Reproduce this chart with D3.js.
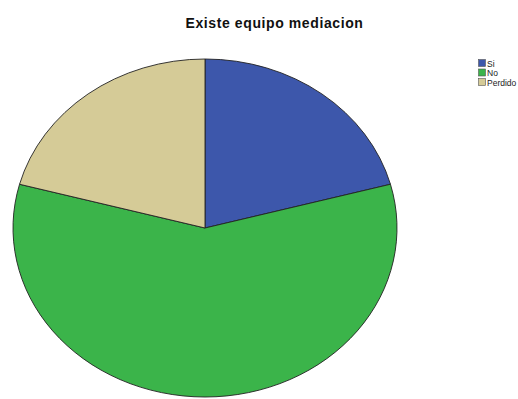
<!DOCTYPE html>
<html><head><meta charset="utf-8">
<script src="https://cdn.jsdelivr.net/npm/d3@7"></script>
<style>body{margin:0;background:#fff}</style>
</head><body>
<svg id="c" width="518" height="399"></svg>
<script>
const categories = ["Si", "No", "Perdido"];
const values = [5, 14, 5];
const colors = ["#3d57ab", "#3bb44a", "#d5cb97"];
const title = "Existe equipo mediacion";

const svg = d3.select("#c");
svg.append("text").attr("x", 274.5).attr("y", 28).attr("text-anchor", "middle")
  .attr("font-family", "Liberation Sans, Arial, sans-serif").attr("font-weight", "bold")
  .attr("font-size", 14).attr("letter-spacing", 0.6).attr("fill", "#111").text(title);

const cx = 205, cy = 228, rx = 192, ry = 169;
const pie = d3.pie().sort(null).value(d => d)(values);
const arc = d3.arc().innerRadius(0).outerRadius(ry);
const g = svg.append("g").attr("transform", `translate(${cx},${cy}) scale(${rx/ry},1)`);
g.selectAll("path").data(pie).join("path")
  .attr("d", arc).attr("fill", (d, i) => colors[i])
  .attr("stroke", "#222").attr("stroke-width", 0.9)
  .attr("vector-effect", "non-scaling-stroke");

const lg = svg.append("g").attr("transform", "translate(478,59)");
categories.forEach((c, i) => {
  lg.append("rect").attr("x", 0.5).attr("y", i * 9.5 + 0.5).attr("width", 7).attr("height", 7)
    .attr("fill", colors[i]).attr("stroke", "#555").attr("stroke-width", 0.6);
  lg.append("text").attr("x", 9).attr("y", i * 9.5 + 7.5).attr("font-size", 8.5)
    .attr("font-family", "Liberation Sans, Arial, sans-serif").attr("fill", "#222").text(c);
});
</script>
</body></html>
